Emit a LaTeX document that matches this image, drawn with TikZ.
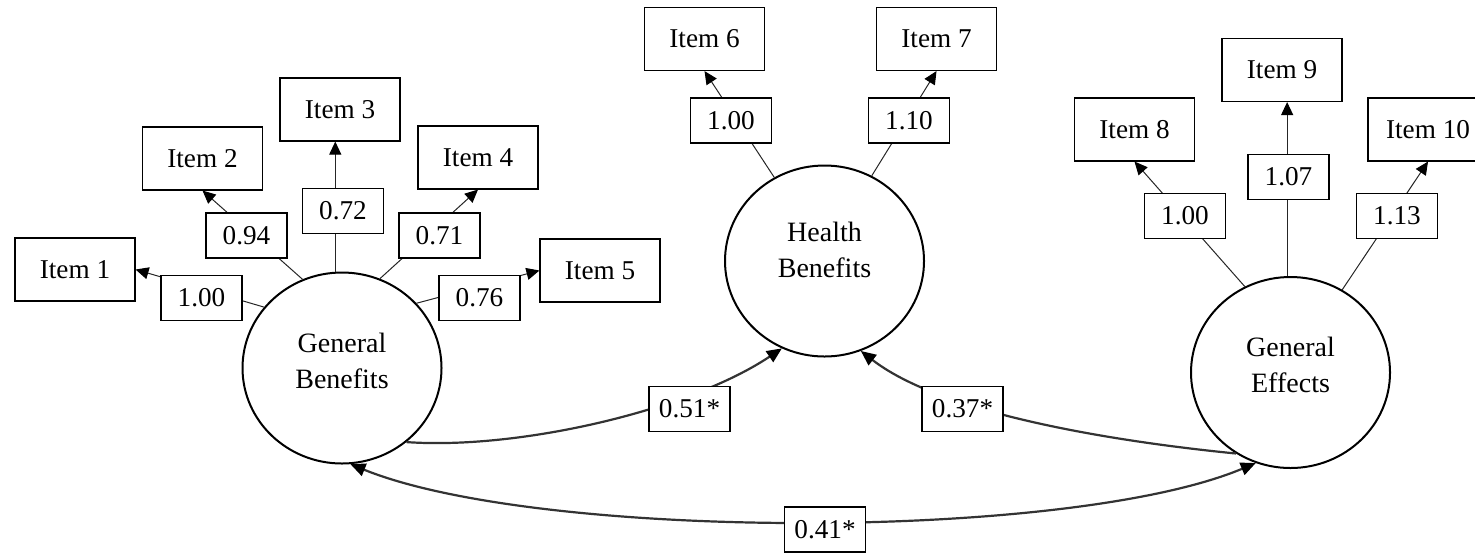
\documentclass[tikz,border=0pt]{standalone}
\usepackage{fontspec}
\setmainfont{Liberation Serif}
\usetikzlibrary{arrows.meta,shapes.geometric}
\begin{document}
\begin{tikzpicture}[x=0.5pt,y=-0.5pt,
  item/.style={draw, line width=0.55pt, minimum width=60pt, minimum height=31.5pt, inner sep=0pt, font=\fontsize{13.6}{16}\selectfont},
  lbl/.style={draw, fill=white, line width=0.55pt, minimum width=40.5pt, minimum height=22.5pt, inner sep=0pt, font=\fontsize{13.6}{16}\selectfont},
  latent/.style={draw, ellipse, line width=1pt, minimum width=99.5pt, minimum height=95.5pt, inner sep=0pt, align=center, font=\fontsize{14}{18}\selectfont},
  ld/.style={line width=0.5pt, black!85, -{Triangle[length=6.5pt,width=6pt,black]}},
  cov/.style={line width=1.1pt, black!80},
  covtip/.tip={Triangle[length=7.5pt,width=6.5pt,black]}
]
\useasboundingbox (0,0) rectangle (1475,553);

% latent variables
\node[latent] (gb) at (342,368) {General\\Benefits\rule[-7pt]{0pt}{7pt}};
\node[latent] (hb) at (824.5,261) {Health\\Benefits\rule[-11pt]{0pt}{11pt}};
\node[latent] (ge) at (1290.5,372.5) {General\\Effects\rule[-7.5pt]{0pt}{7.5pt}};

% indicators
\node[item] (i1) at (75,269.5) {Item 1};
\node[item] (i2) at (202.5,158.5) {Item 2};
\node[item] (i3) at (340,109.5) {Item 3};
\node[item] (i4) at (478,157.5) {Item 4};
\node[item] (i5) at (600,270.5) {Item 5};
\node[item] (i6) at (704.5,39) {Item 6};
\node[item] (i7) at (936.5,39) {Item 7};
\node[item] (i8) at (1134.5,129.5) {Item 8};
\node[item] (i9) at (1282,70) {Item 9};
\node[item] (i10) at (1428,129.5) {Item 10};

% loadings
\draw[ld] (gb.142) -- (i1.east);
\draw[ld] (gb.114) -- (i2.south);
\draw[ld] (gb.94) -- (gb.94 |- i3.south);
\draw[ld] (gb.67) -- (i4.south);
\draw[ld] (gb.41) -- (i5.west);
\draw[ld] (hb.121) -- (i6.south);
\draw[ld] (hb.61) -- (i7.south);
\draw[ld] (ge.118) -- (i8.south);
\draw[ld] (ge.92) -- (ge.92 |- i9.south);
\draw[ld] (ge.58) -- (i10.south);

% covariances
\draw[cov, -covtip] (gb.311) .. controls (520,450) and (690,410) .. (hb.244);
\draw[cov, -covtip] (ge.236) .. controls (1150,445) and (950,420) .. (hb.292);
\draw[cov, covtip-covtip] (gb.275) .. controls (540,541) and (1070,541) .. (ge.249);

% loading labels
\node[lbl] (l1) at (201.5,298) {1.00};
\node[lbl] (l2) at (246.5,235.5) {0.94};
\node[lbl] (l3) at (343,211) {0.72};
\node[lbl] (l4) at (439.5,235.5) {0.71};
\node[lbl] (l5) at (479.5,298) {0.76};
\node[lbl] (l6) at (731,120.5) {1.00};
\node[lbl] (l7) at (909,120.5) {1.10};
\node[lbl] (l8) at (1185,216) {1.00};
\node[lbl] (l9) at (1288.5,177) {1.07};
\node[lbl] (l10) at (1397,216) {1.13};
\node[lbl] (l51) at (689.5,409) {0.51*};
\node[lbl] (l37) at (962.5,409) {0.37*};
\node[lbl] (l41) at (825,529.5) {0.41*};
\end{tikzpicture}
\end{document}
